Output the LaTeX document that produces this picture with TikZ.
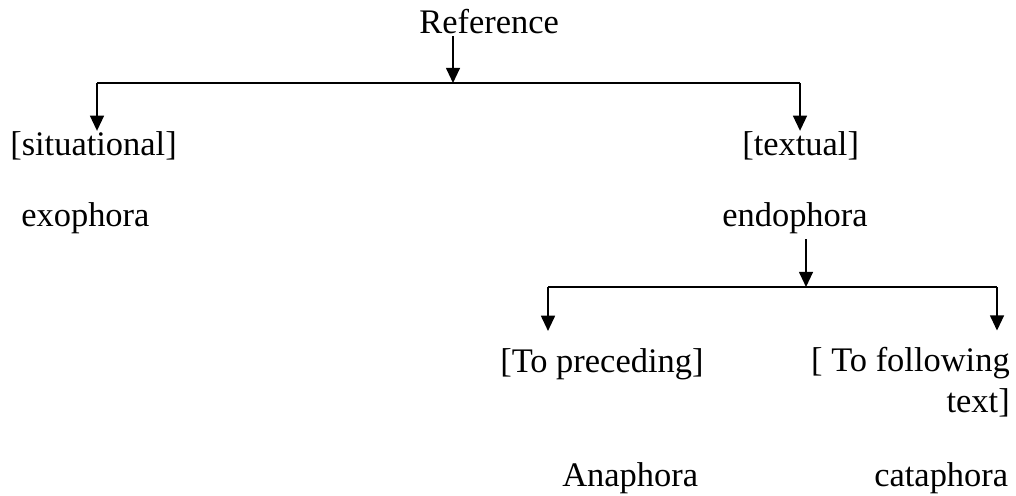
\documentclass[tikz,border=0pt]{standalone}
\usepackage{fontspec}
\setmainfont{Liberation Serif}
\usetikzlibrary{arrows.meta}

\begin{document}
\begin{tikzpicture}[x=0.025cm,y=-0.025cm,
  lbl/.style={inner sep=0pt,font=\fontsize{24.5}{28.5}\selectfont},
  conn/.style={line width=1.1pt},
  arr/.style={conn,-{Triangle[width=0.35cm,length=0.38cm]}}]

\useasboundingbox (0,0) rectangle (1016,495);

% top level
\node[lbl,anchor=base west] (ref) at (419,33) {Reference};
\node[lbl,anchor=base west] (sit) at (10,155) {[situational]};
\node[lbl,anchor=base west] (txt) at (742,155) {[textual]};
\node[lbl,anchor=base west] (exo) at (21,226) {exophora};
\node[lbl,anchor=base west] (endo) at (722,226) {endophora};

% second level
\node[lbl,anchor=base west] (pre) at (500,372) {[To preceding]};
\node[lbl,anchor=base east,align=right] (fol) at (1010,412) {[ To following\\text]};
\node[lbl,anchor=base west] (ana) at (562,486) {Anaphora};
\node[lbl,anchor=base west] (cata) at (874,486) {cataphora};

% branch points
\coordinate (b1) at (453,83);
\coordinate (b1l) at (97,83);
\coordinate (b1r) at (800,83);
\coordinate (b2) at (806,287);
\coordinate (b2l) at (548,287);
\coordinate (b2r) at (997,287);

% Reference -> situational / textual
\draw[arr,shorten <=2] (ref.south -| b1) -- (b1);
\draw[conn] (b1l) -- (b1r);
\draw[arr] (b1l) -- (b1l |- sit.north);
\draw[arr] (b1r) -- (b1r |- txt.north);

% endophora -> anaphora / cataphora
\draw[arr,shorten <=4] (endo.south -| b2) -- (b2);
\draw[conn] (b2l) -- (b2r);
\draw[arr,shorten >=12] (b2l) -- (b2l |- pre.north);
\draw[arr,shorten >=12] (b2r) -- (b2r |- fol.north);

\end{tikzpicture}
\end{document}
